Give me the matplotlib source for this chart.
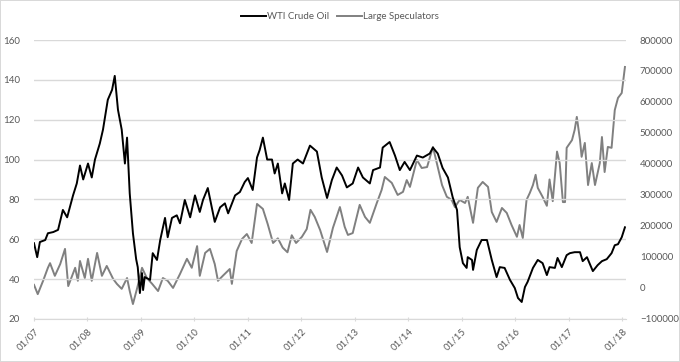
import matplotlib.pyplot as plt

# WTI crude oil (left axis), decimal years
oil_t = [2007.00, 2007.06, 2007.11, 2007.21, 2007.26, 2007.36, 2007.45, 2007.54, 2007.62, 2007.73,
         2007.80, 2007.86, 2007.92, 2008.01, 2008.08, 2008.14, 2008.23, 2008.29, 2008.38, 2008.46,
         2008.51, 2008.57, 2008.64, 2008.70, 2008.74, 2008.79, 2008.85, 2008.91, 2008.94, 2008.98,
         2009.02, 2009.04, 2009.07, 2009.17, 2009.22, 2009.30, 2009.36, 2009.45, 2009.50, 2009.58,
         2009.67, 2009.73, 2009.82, 2009.92, 2010.01, 2010.10, 2010.16, 2010.25, 2010.38, 2010.48,
         2010.57, 2010.63, 2010.76, 2010.85, 2010.94, 2011.00, 2011.09, 2011.17, 2011.22, 2011.28,
         2011.36, 2011.45, 2011.50, 2011.56, 2011.64, 2011.69, 2011.77, 2011.84, 2011.93, 2012.03,
         2012.16, 2012.29, 2012.38, 2012.48, 2012.57, 2012.66, 2012.76, 2012.85, 2012.96, 2013.06,
         2013.15, 2013.28, 2013.34, 2013.47, 2013.52, 2013.65, 2013.75, 2013.84, 2013.93, 2014.03,
         2014.16, 2014.27, 2014.40, 2014.46, 2014.55, 2014.64, 2014.74, 2014.83, 2014.91, 2014.96,
         2015.02, 2015.09, 2015.11, 2015.19, 2015.21, 2015.28, 2015.37, 2015.47, 2015.56, 2015.65,
         2015.71, 2015.80, 2015.90, 2015.99, 2016.05, 2016.12, 2016.18, 2016.23, 2016.33, 2016.42,
         2016.51, 2016.59, 2016.64, 2016.74, 2016.79, 2016.87, 2016.96, 2017.02, 2017.11, 2017.21,
         2017.26, 2017.34, 2017.45, 2017.54, 2017.62, 2017.71, 2017.80, 2017.86, 2017.92, 2017.99,
         2018.05]
oil_val = [58, 51, 58.6, 59.6, 63, 63.6, 64.7, 74.7, 71, 82,
           88, 97, 90, 98, 91, 100, 108, 115, 130, 135,
           142, 125, 115, 98, 111, 83, 63, 50, 46, 33,
           43, 34.5, 41, 39.6, 53, 49.6, 59.6, 70.7, 61, 70.7,
           72, 68, 79.7, 71, 82, 73.7, 79.7, 85.7, 68.7, 76,
           78, 73, 82, 83.7, 88.7, 90.7, 84.7, 101, 104.8, 111,
           100, 100, 93, 98, 83, 88, 79.7, 98, 100, 98,
           107, 104, 91, 80.7, 89.7, 96, 92, 86, 88, 96,
           91, 88, 94.7, 96, 106, 108.8, 102, 94.7, 98.8, 94.7,
           102, 101, 103, 106, 103, 95.8, 91, 81, 74.7, 56,
           48, 45.6, 51, 49.6, 44.6, 54.6, 59.6, 59.6, 49.6, 41,
           46, 45.6, 39.6, 35.5, 30.5, 28.5, 36, 38.6, 45.6, 49.6,
           48, 42, 46, 45.6, 50.6, 46, 52, 53, 53.5, 53.5,
           49, 51, 44, 47, 49, 50, 53, 57, 57.5, 61,
           66]

# Large speculators net position (right axis)
spec_t = [2007.00, 2007.07, 2007.17, 2007.26, 2007.30, 2007.39, 2007.49, 2007.58, 2007.64, 2007.77,
          2007.82, 2007.86, 2007.95, 2008.01, 2008.08, 2008.18, 2008.27, 2008.36, 2008.48, 2008.55,
          2008.64, 2008.74, 2008.79, 2008.85, 2008.93, 2009.02, 2009.11, 2009.21, 2009.32, 2009.41,
          2009.50, 2009.60, 2009.73, 2009.86, 2009.95, 2010.05, 2010.10, 2010.20, 2010.29, 2010.38,
          2010.44, 2010.53, 2010.66, 2010.70, 2010.79, 2010.89, 2010.98, 2011.07, 2011.17, 2011.28,
          2011.37, 2011.47, 2011.56, 2011.65, 2011.74, 2011.82, 2011.90, 2012.01, 2012.10, 2012.17,
          2012.25, 2012.35, 2012.48, 2012.59, 2012.72, 2012.81, 2012.87, 2012.96, 2013.09, 2013.19,
          2013.28, 2013.41, 2013.50, 2013.56, 2013.69, 2013.80, 2013.90, 2013.97, 2014.03, 2014.16,
          2014.25, 2014.35, 2014.46, 2014.55, 2014.63, 2014.72, 2014.81, 2014.87, 2014.96, 2015.06,
          2015.11, 2015.21, 2015.30, 2015.39, 2015.49, 2015.56, 2015.65, 2015.75, 2015.84, 2015.93,
          2016.03, 2016.08, 2016.14, 2016.21, 2016.27, 2016.33, 2016.38, 2016.42, 2016.51, 2016.59,
          2016.64, 2016.70, 2016.78, 2016.83, 2016.89, 2016.93, 2016.96, 2017.06, 2017.11, 2017.15,
          2017.21, 2017.24, 2017.30, 2017.36, 2017.43, 2017.49, 2017.58, 2017.62, 2017.67, 2017.73,
          2017.80, 2017.86, 2017.92, 2017.99, 2018.05]
spec_val = [10000, -20000, 23000, 65000, 80000, 39000, 77000, 126000, 6000, 65000,
            23000, 87000, 32000, 94000, 23000, 113000, 39000, 71000, 29000, 13000,
            -3000, 32000, -10000, -52000, 0, 65000, 32000, 13000, -10000, 32000,
            23000, 0, 45000, 94000, 65000, 135000, 39000, 113000, 126000, 77000,
            23000, 39000, 61000, 13000, 119000, 158000, 174000, 145000, 271000, 255000,
            206000, 145000, 160000, 130000, 115000, 170000, 145000, 165000, 190000, 252000,
            229000, 187000, 116000, 194000, 261000, 197000, 171000, 177000, 268000, 229000,
            210000, 274000, 316000, 358000, 339000, 300000, 310000, 348000, 326000, 413000,
            387000, 390000, 455000, 390000, 332000, 294000, 284000, 261000, 284000, 274000,
            294000, 210000, 323000, 342000, 326000, 245000, 213000, 258000, 242000, 203000,
            165000, 203000, 161000, 284000, 306000, 332000, 365000, 323000, 294000, 265000,
            350000, 280000, 440000, 403000, 277000, 277000, 452000, 477000, 510000, 552000,
            477000, 423000, 468000, 332000, 403000, 332000, 403000, 487000, 374000, 455000,
            452000, 574000, 613000, 629000, 713000]

years = list(range(2007, 2019))
year_labels = ['01/%02d' % (y % 100) for y in years]

plt.rcParams['font.family'] = ['Lato', 'DejaVu Sans']
txt = '#595959'
grid = '#d9d9d9'

fig = plt.figure(figsize=(6.8, 3.62), dpi=100, linewidth=1.2, edgecolor=grid)
ax = fig.add_axes([0.05, 0.119, 0.8706, 0.7705])
ax2 = ax.twinx()

l1, = ax.plot(oil_t, oil_val, color='black', lw=1.4, label='WTI Crude Oil', zorder=3)
l2, = ax2.plot(spec_t, spec_val, color='#808080', lw=1.4, label='Large Speculators')
ax.set_zorder(ax2.get_zorder() + 1)
ax.patch.set_visible(False)

ax.set_xlim(2007.0, 2018.07)
ax.set_ylim(20, 160)
ax.set_yticks(range(20, 161, 20))
ax2.set_ylim(-100000, 800000)
ax2.set_yticks(range(-100000, 800001, 100000))

ax.set_xticks(years)
ax.set_xticklabels(year_labels, rotation=45, ha='right', va='top', rotation_mode='anchor')

ax2.yaxis.grid(False)
ax.yaxis.grid(True, color=grid, lw=1)
ax.set_axisbelow(True)
for a in (ax, ax2):
    for s in a.spines.values():
        s.set_visible(False)
ax.spines['bottom'].set_visible(True)
ax.spines['bottom'].set_color(grid)

ax.tick_params(axis='y', length=0, pad=10, labelsize=7, labelcolor=txt)
ax2.tick_params(axis='y', length=0, pad=10, labelsize=7, labelcolor=txt)
ax.tick_params(axis='x', length=3, direction='inout', color=grid, pad=4, labelsize=7, labelcolor=txt)

fig.legend(handles=[l1, l2], loc='upper center', bbox_to_anchor=(0.5, 0.99), ncol=2,
           frameon=False, fontsize=7, labelcolor=txt, handlelength=2.6, handletextpad=0.1,
           columnspacing=0.8)

fig.savefig('out.png', dpi=100)
